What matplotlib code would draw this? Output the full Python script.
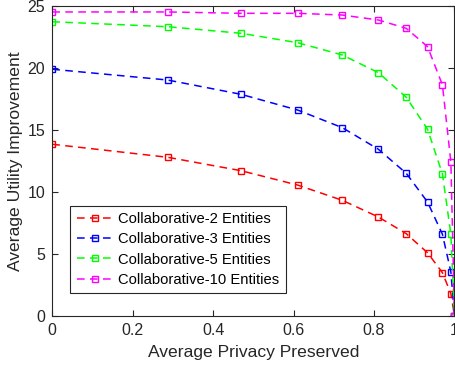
import matplotlib
matplotlib.use("Agg")
import matplotlib.pyplot as plt

plt.rcParams['font.family'] = ['Liberation Sans', 'DejaVu Sans']

privacy = [0, 0.287, 0.469, 0.610, 0.721, 0.811, 0.880, 0.933, 0.970, 0.991, 1.0]
util_2 = [13.85, 12.80, 11.72, 10.56, 9.33, 7.98, 6.64, 5.10, 3.49, 1.80, 0]
util_3 = [19.90, 19.03, 17.88, 16.61, 15.19, 13.44, 11.51, 9.19, 6.59, 3.55, 0]
util_5 = [23.73, 23.33, 22.80, 22.04, 21.05, 19.62, 17.64, 15.06, 11.45, 6.59, 0]
util_10 = [24.52, 24.52, 24.41, 24.41, 24.27, 23.87, 23.20, 21.72, 18.63, 12.40, 0]
labels = ["Collaborative-2 Entities", "Collaborative-3 Entities",
          "Collaborative-5 Entities", "Collaborative-10 Entities"]
colors = ["#ff0000", "#0000ff", "#00ff00", "#ff00ff"]
xticks = [0, 0.2, 0.4, 0.6, 0.8, 1]
yticks = [0, 5, 10, 15, 20, 25]

fig = plt.figure(figsize=(4.56, 3.76), dpi=100)
ax = fig.add_axes([52.3/456, 60/376, 402.2/456, 310/376])

for y, lab, c in zip([util_2, util_3, util_5, util_10], labels, colors):
    ax.plot(privacy, y, linestyle=(0, (5, 3.5)), color=c, linewidth=1.1,
            marker='s', markersize=5, markerfacecolor='none',
            markeredgecolor=c, markeredgewidth=1.0, label=lab)

ax.set_xlim(0, 1)
ax.set_ylim(0, 25)
ax.set_xticks(xticks)
ax.set_xticklabels(["0", "0.2", "0.4", "0.6", "0.8", "1"])
ax.set_yticks(yticks)
axcol = '#262626'
for s in ax.spines.values():
    s.set_color(axcol)
    s.set_linewidth(0.8)
ax.tick_params(direction='in', length=4, width=0.8, colors=axcol, labelsize=11.5,
               top=True, right=True, pad=5)
ax.set_xlabel("Average Privacy Preserved", fontsize=12.6, color=axcol, labelpad=5)
ax.set_ylabel("Average Utility Improvement", fontsize=12.6, color=axcol, labelpad=3)

leg = ax.legend(loc='lower left', bbox_to_anchor=(0.044, 0.073), fontsize=10.6,
                fancybox=False, framealpha=1, edgecolor=axcol, handlelength=2.5,
                handletextpad=0.3, labelspacing=0.42, borderpad=0.45,
                borderaxespad=0, markerscale=0.8)
leg.get_frame().set_linewidth(0.8)

fig.savefig("out.png", dpi=100)
